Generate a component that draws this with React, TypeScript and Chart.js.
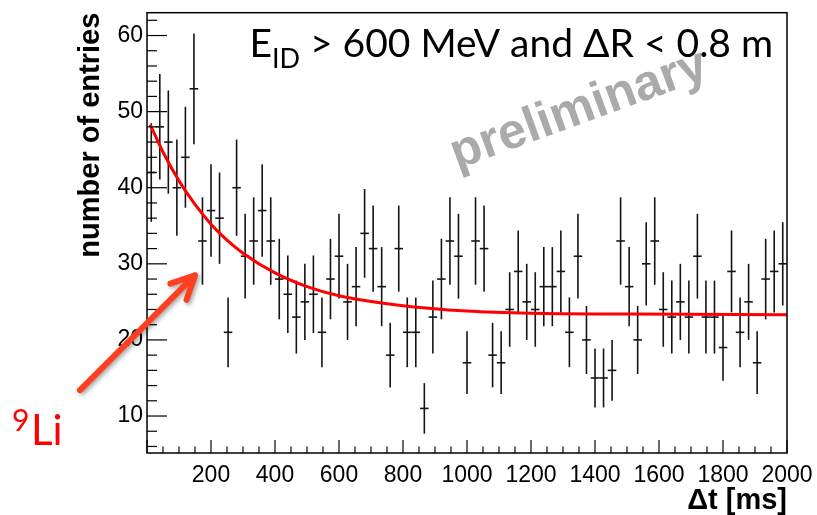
import React, { useEffect, useRef } from "react";
import { Chart, registerables } from "chart.js";

Chart.register(...registerables);

// ---- data ----
const X_RANGE = [0, 2000];
const Y_RANGE = [5.14, 63.0];
const N_BINS = 75;
const COUNTS = [
  42, 48, 46, 40, 44, 53, 33, 37, 36, 21,
  40, 31, 33, 37, 33, 28, 26, 23, 25, 26,
  21, 28, 31, 25, 27, 34, 32, 27, 18, 32,
  21, 21, 11, 23, 28, 33, 31, 17, 33, 32,
  18, 17, 24, 29, 25, 24, 27, 27, 29, 21,
  31, 20, 15, 15, 16, 33, 27, 20, 30, 33,
  24, 23, 25, 23, 31, 23, 23, 19, 29, 21,
  25, 17, 28, 29, 30,
];
const FIT_T = [10, 50, 100, 150, 200, 250, 300, 400, 500, 600, 800, 1000, 1200, 1500, 2000];
const FIT_Y = [48.3, 44.7, 40.9, 37.8, 35.2, 33.1, 31.4, 28.8, 27.0, 25.8, 24.5, 23.8, 23.5, 23.4, 23.3];
const X_TICK_STEP = 200;
const X_MINOR_STEP = 50;
const Y_TICK_STEP = 10;
const Y_MINOR_STEP = 2;
const X_TITLE = "\u0394t [ms]";
const Y_TITLE = "number of entries";
const CUT_MAIN = "E";
const CUT_SUB = "ID";
const CUT_REST = " > 600 MeV and \u0394R < 0.8 m";
const WATERMARK = "preliminary";
const ISO_MASS = "9";
const ISO_NAME = "Li";

const SANS = '"Liberation Sans", Arial, Helvetica, sans-serif';
const HUMAN = 'Lato, "Open Sans", "DejaVu Sans", sans-serif';

const rootPlugin = {
  id: "rootStyle",
  beforeDatasetsDraw(chart: any) {
    const { ctx, scales } = chart;
    const x = scales.x;
    const y = scales.y;
    // watermark
    ctx.save();
    ctx.translate(x.getPixelForValue(1350), y.getPixelForValue(50.2));
    ctx.rotate((-20 * Math.PI) / 180);
    ctx.fillStyle = "#aaaaaa";
    ctx.font = `bold 50px ${SANS}`;
    ctx.textAlign = "center";
    ctx.textBaseline = "middle";
    ctx.fillText(WATERMARK, 0, 0);
    ctx.restore();

    // error bars from the data dataset
    const ds = chart.data.datasets[1];
    const half = (X_RANGE[1] - X_RANGE[0]) / N_BINS / 2;
    ctx.save();
    ctx.strokeStyle = "#141414";
    ctx.lineWidth = 1.6;
    ds.data.forEach((p: any) => {
      const err = Math.sqrt(p.y);
      const px = x.getPixelForValue(p.x);
      const py = y.getPixelForValue(p.y);
      ctx.beginPath();
      ctx.moveTo(px, y.getPixelForValue(p.y + err));
      ctx.lineTo(px, y.getPixelForValue(p.y - err));
      ctx.stroke();
      ctx.beginPath();
      ctx.moveTo(x.getPixelForValue(p.x - half), py);
      ctx.lineTo(x.getPixelForValue(p.x + half), py);
      ctx.stroke();
    });
    ctx.restore();
  },
  afterDraw(chart: any) {
    const { ctx, chartArea, scales } = chart;
    const x = scales.x;
    const y = scales.y;
    const { left, right, top, bottom } = chartArea;

    // frame
    ctx.save();
    ctx.strokeStyle = "#000";
    ctx.lineWidth = 1.5;
    ctx.strokeRect(left, top, right - left, bottom - top);

    // inner ticks
    ctx.lineWidth = 1.2;
    for (let v = X_RANGE[0]; v <= X_RANGE[1]; v += X_MINOR_STEP) {
      const px = x.getPixelForValue(v);
      const len = v % X_TICK_STEP === 0 ? 13 : 6.5;
      ctx.beginPath();
      ctx.moveTo(px, bottom);
      ctx.lineTo(px, bottom - len);
      ctx.stroke();
    }
    const yStart = Math.ceil(Y_RANGE[0] / Y_MINOR_STEP) * Y_MINOR_STEP;
    for (let v = yStart; v <= Y_RANGE[1]; v += Y_MINOR_STEP) {
      const py = y.getPixelForValue(v);
      const len = v % Y_TICK_STEP === 0 ? 20 : 10;
      ctx.beginPath();
      ctx.moveTo(left, py);
      ctx.lineTo(left + len, py);
      ctx.stroke();
    }
    ctx.restore();

    // cut text
    ctx.save();
    ctx.fillStyle = "#000";
    ctx.textBaseline = "alphabetic";
    ctx.textAlign = "left";
    let tx = x.getPixelForValue(320);
    const ty = y.getPixelForValue(57.2);
    ctx.font = `39px ${HUMAN}`;
    ctx.fillText(CUT_MAIN, tx, ty);
    tx += ctx.measureText(CUT_MAIN).width;
    ctx.font = `27px ${HUMAN}`;
    ctx.fillText(CUT_SUB, tx, ty + 11);
    tx += ctx.measureText(CUT_SUB).width;
    ctx.font = `39px ${HUMAN}`;
    ctx.fillText(CUT_REST, tx, ty);
    ctx.restore();

    // 9Li label
    ctx.save();
    ctx.fillStyle = "#ff0000";
    ctx.textAlign = "left";
    ctx.textBaseline = "alphabetic";
    ctx.font = `30px ${HUMAN}`;
    ctx.fillText(ISO_MASS, 12, 431);
    ctx.font = `42px ${HUMAN}`;
    ctx.fillText(ISO_NAME, 31, 445);
    ctx.restore();

    // arrow
    const tipX = x.getPixelForValue(150);
    const tipY = y.getPixelForValue(28.5);
    const tailX = tipX - 115;
    const tailY = tipY + 115;
    const ang = Math.atan2(tailY - tipY, tailX - tipX);
    const armLen = 26;
    const spread = (26 * Math.PI) / 180;
    ctx.save();
    ctx.strokeStyle = "#ff4020";
    ctx.lineWidth = 6;
    ctx.lineCap = "round";
    ctx.lineJoin = "round";
    ctx.shadowColor = "rgba(0,0,0,0.35)";
    ctx.shadowBlur = 4;
    ctx.shadowOffsetX = 2;
    ctx.shadowOffsetY = 2;
    ctx.beginPath();
    ctx.moveTo(tailX, tailY);
    ctx.lineTo(tipX, tipY);
    ctx.moveTo(tipX + armLen * Math.cos(ang - spread), tipY + armLen * Math.sin(ang - spread));
    ctx.lineTo(tipX, tipY);
    ctx.lineTo(tipX + armLen * Math.cos(ang + spread), tipY + armLen * Math.sin(ang + spread));
    ctx.stroke();
    ctx.restore();
  },
};

export default function App() {
  const ref = useRef<HTMLCanvasElement | null>(null);
  useEffect(() => {
    if (!ref.current) return;
    const binWidth = (X_RANGE[1] - X_RANGE[0]) / N_BINS;
    const points = COUNTS.map((n, i) => ({ x: X_RANGE[0] + (i + 0.5) * binWidth, y: n }));
    const fit = FIT_T.map((t, i) => ({ x: t, y: FIT_Y[i] }));
    const chart = new Chart(ref.current, {
      type: "scatter",
      data: {
        datasets: [
          {
            type: "line",
            label: "fit",
            data: fit,
            borderColor: "#ff0000",
            borderWidth: 3,
            pointRadius: 0,
            cubicInterpolationMode: "monotone",
            fill: false,
            order: 0,
          } as any,
          {
            type: "scatter",
            label: "data",
            data: points,
            pointRadius: 0,
            pointHoverRadius: 0,
            order: 1,
          } as any,
        ],
      },
      options: {
        animation: false,
        responsive: true,
        maintainAspectRatio: false,
        events: [],
        layout: { padding: { left: 0, right: 30, top: 12.7, bottom: 0 } },
        plugins: { legend: { display: false }, tooltip: { enabled: false } },
        scales: {
          x: {
            type: "linear",
            min: X_RANGE[0],
            max: X_RANGE[1],
            grid: { display: false, drawTicks: false, tickLength: 0 },
            border: { display: false },
            ticks: {
              stepSize: X_TICK_STEP,
              autoSkip: false,
              maxRotation: 0,
              padding: 9,
              color: "#000",
              font: { family: SANS, size: 23 },
              callback: (v: any) => (v === 0 ? "" : String(v)),
            },
            title: {
              display: true,
              text: X_TITLE,
              align: "end",
              color: "#000",
              font: { family: SANS, size: 29, weight: "bold", lineHeight: 1 },
              padding: { top: 0, bottom: 0 },
            },
            afterFit: (s: any) => {
              s.height = 62;
              s.paddingLeft = 0;
              s.paddingRight = 0;
            },
          },
          y: {
            type: "linear",
            min: Y_RANGE[0],
            max: Y_RANGE[1],
            grid: { display: false, drawTicks: false, tickLength: 0 },
            border: { display: false },
            ticks: {
              stepSize: Y_TICK_STEP,
              includeBounds: false,
              padding: 4,
              color: "#000",
              font: { family: SANS, size: 23 },
            },
            title: {
              display: true,
              text: Y_TITLE,
              align: "end",
              color: "#000",
              font: { family: SANS, size: 29, weight: "bold", lineHeight: 1 },
              padding: { top: 76, bottom: 0 },
            },
            afterFit: (s: any) => {
              s.width = 147;
              s.paddingTop = 0;
              s.paddingBottom = 0;
            },
          },
        },
      } as any,
      plugins: [rootPlugin],
    });
    return () => chart.destroy();
  }, []);
  return (
    <div style={{ position: "fixed", left: 0, top: 0, width: 817, height: 515, background: "#fff" }}>
      <canvas ref={ref} />
    </div>
  );
}
